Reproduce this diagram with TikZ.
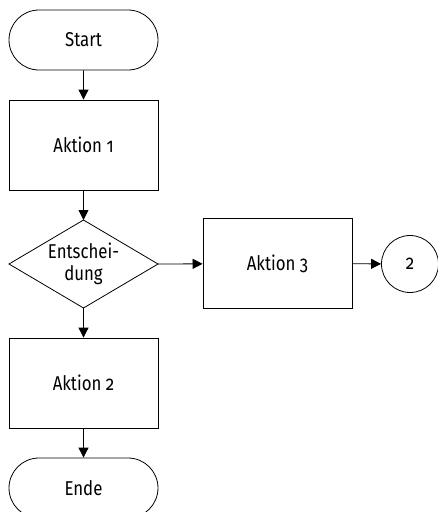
\documentclass[tikz,border=0pt]{standalone}
\usepackage{fontspec}
\setmainfont{Fira Sans}[Numbers=OldStyle,FakeStretch=0.84]
\usetikzlibrary{arrows.meta,shapes.misc}
\begin{document}
\begin{tikzpicture}[x=1pt,y=-1pt,
  every node/.style={font=\fontsize{20}{22}\selectfont},
  term/.style={draw,rounded rectangle,minimum width=149pt,minimum height=60pt,inner sep=0pt},
  actbox/.style={draw,rectangle,minimum width=149pt,minimum height=90pt,inner sep=0pt},
  conn/.style={draw,circle,minimum size=57pt,inner sep=0pt},
  flow/.style={-{Triangle[length=10pt,width=10pt]}}]
\useasboundingbox[clip] (0,0) rectangle (438,512);
\tikzset{every path/.append style={line width=0.8pt}}
\node[term] (start) at (83.5,40) {Start};
\node[actbox] (a1) at (83.5,145) {Aktion 1};
\path[draw] (9,264) coordinate (dl) -- (83.5,220) coordinate (dt) -- (158,264) coordinate (dr) -- (83.5,308) coordinate (db) -- cycle;
\node[align=center] (dectext) at (83.5,264) {Entschei-\\dung};
\node[actbox] (a3) at (277.5,263.5) {Aktion 3};
\node[conn] (c2) at (410,264) {2};
\node[actbox] (a2) at (83.5,383) {Aktion 2};
\node[term] (ende) at (83.5,488) {Ende};
\draw[flow] (start) -- (a1);
\draw[flow] (a1) -- (dt);
\draw[flow] (dr) -- (a3);
\draw[flow] (a3) -- (c2);
\draw[flow] (db) -- (a2);
\draw[flow] (a2) -- (ende);
\end{tikzpicture}
\end{document}
